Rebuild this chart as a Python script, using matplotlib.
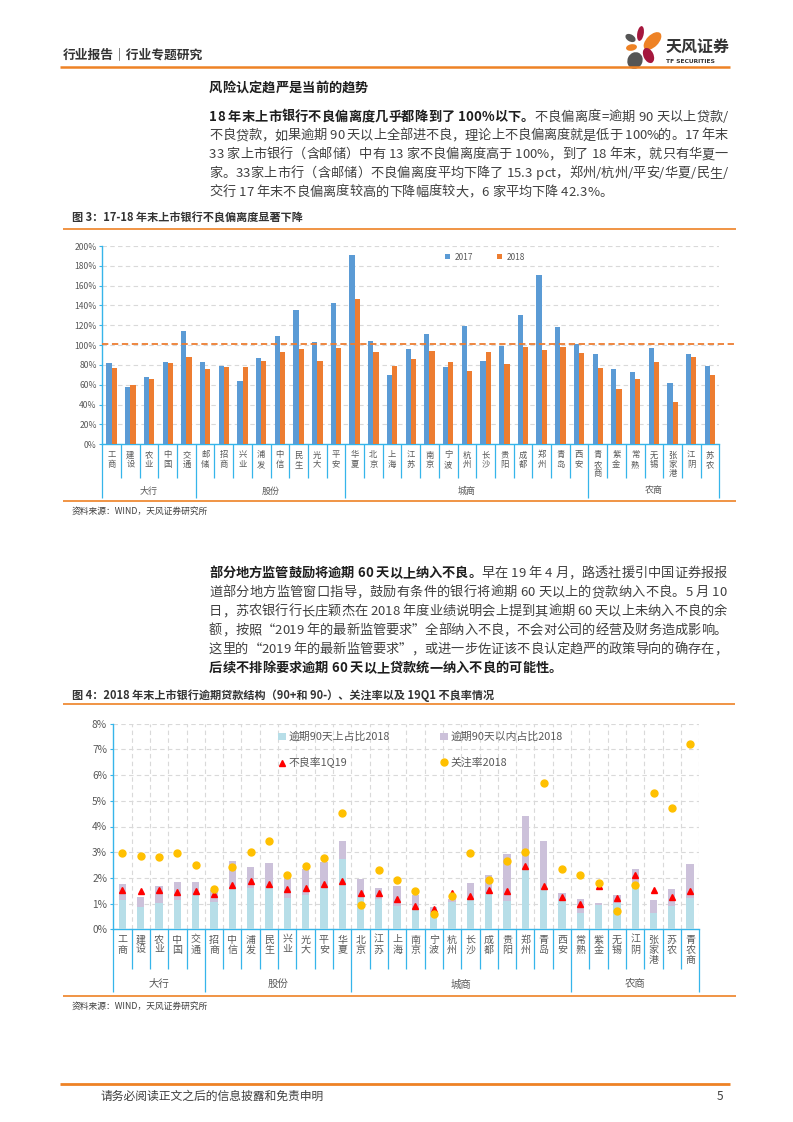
import matplotlib
matplotlib.use('Agg')
import matplotlib.pyplot as plt
import matplotlib.transforms as mtransforms
from matplotlib.patches import Ellipse
from matplotlib.font_manager import FontProperties
import numpy as np

FAM = ['Noto Sans CJK SC', 'DejaVu Sans']
plt.rcParams['font.family'] = FAM
plt.rcParams['axes.unicode_minus'] = False

# ---------------- data ----------------
cats1 = ['工商', '建设', '农业', '中国', '交通', '邮储', '招商', '兴业', '浦发', '中信', '民生', '光大', '平安',
         '华夏', '北京', '上海', '江苏', '南京', '宁波', '杭州', '长沙', '贵阳', '成都', '郑州', '青岛', '西安',
         '青农商', '紫金', '常熟', '无锡', '张家港', '江阴', '苏农']
dev2017 = [82, 58, 68, 83, 114.6, 82.7, 79.3, 64, 86.7, 109.6, 135.8, 103.5, 142.9,
           191.3, 104.5, 70.3, 96.5, 111.6, 78.3, 119.7, 84.4, 99.5, 130.8, 171.1, 118.7, 101.5,
           91.4, 76.3, 73.3, 97.5, 62.2, 91.4, 79.3]
dev2018 = [76.6, 60, 65.5, 82, 87.7, 75.6, 78.3, 78.3, 84.4, 92.8, 96.5, 84.4, 97.5,
           146.9, 92.8, 79.3, 86.4, 94.5, 82.7, 74.3, 93.4, 81.3, 98.5, 95.5, 98.5, 92.4,
           77.3, 56.1, 66.2, 82.7, 43, 88.4, 70.3]
groups1 = [('大行', 0, 5), ('股份', 5, 13), ('城商', 13, 26), ('农商', 26, 33)]
ref_value1 = 101
series1 = ['2017', '2018']

cats2 = ['工商', '建设', '农业', '中国', '交通', '招商', '中信', '浦发', '民生', '兴业', '光大', '平安', '华夏',
         '北京', '江苏', '上海', '南京', '宁波', '杭州', '长沙', '成都', '贵阳', '郑州', '青岛', '西安',
         '常熟', '紫金', '无锡', '江阴', '张家港', '苏农', '青农商']
over90 = [1.14, 0.87, 1.01, 1.14, 1.32, 1.07, 1.56, 1.61, 1.61, 1.22, 1.34, 1.61, 2.74,
          1.25, 1.19, 0.91, 0.78, 0.62, 1.08, 1.14, 1.40, 1.09, 2.33, 1.53, 1.10,
          0.65, 0.95, 1.01, 1.85, 0.65, 0.91, 1.21]
within90 = [0.62, 0.38, 0.68, 0.70, 0.52, 0.46, 1.10, 0.82, 0.96, 0.80, 0.99, 1.00, 0.70,
            0.70, 0.41, 0.78, 0.56, 0.24, 0.10, 0.66, 0.71, 1.84, 2.08, 1.89, 0.31,
            0.53, 0.09, 0.33, 0.48, 0.49, 0.66, 1.33]
npl1q19 = [1.53, 1.48, 1.53, 1.45, 1.49, 1.36, 1.73, 1.88, 1.76, 1.56, 1.60, 1.75, 1.87,
           1.40, 1.40, 1.19, 0.91, 0.78, 1.43, 1.30, 1.53, 1.49, 2.46, 1.69, 1.26,
           0.99, 1.67, 1.22, 2.11, 1.53, 1.25, 1.49]
attention = [2.96, 2.85, 2.80, 2.96, 2.49, 1.56, 2.41, 3.00, 3.42, 2.10, 2.45, 2.76, 4.51,
             0.93, 2.30, 1.91, 1.48, 0.60, 1.30, 2.96, 1.91, 2.65, 3.00, 5.68, 2.33,
             2.10, 1.79, 0.71, 1.71, 5.29, 4.71, 7.22]
groups2 = [('大行', 0, 5), ('股份', 5, 13), ('城商', 13, 25), ('农商', 25, 32)]
series2 = ['逾期90天上占比2018', '不良率1Q19', '逾期90天以内占比2018', '关注率2018']

# ---------------- figure ----------------
W, H = 793, 1122
fig = plt.figure(figsize=(W / 100, H / 100), dpi=100)
fig.patch.set_facecolor('white')
bg = fig.add_axes([0, 0, 1, 1])
bg.set_xlim(0, W)
bg.set_ylim(H, 0)
bg.axis('off')

ORANGE = '#EE8225'
CYAN = '#36B5EA'
GREY = '#595959'
TXT = '#404040'

renderer = fig.canvas.get_renderer()


def tw(s, fp):
    w, h, d = renderer.get_text_width_height_descent(s, fp, ismath=False)
    return w


def adv(ch, fp):
    return tw('|' + ch + '|', fp) - tw('||', fp)


def draw_line(runs, x0, x1, yc, justify, size=9.5):
    items = []
    for txt, bold in runs:
        fp = FontProperties(family=FAM, size=size, weight='bold' if bold else 'normal')
        col = '#1E1E1E' if bold else TXT
        for ch in txt:
            items.append((ch, fp, col, adv(ch, fp)))
    total = sum(i[3] for i in items)
    gap = (x1 - x0 - total) / (len(items) - 1) if (justify and len(items) > 1) else 0
    x = x0
    yb = yc + size * 100 / 72 * 0.38
    for ch, fp, col, a in items:
        if ch != ' ':
            bg.text(x, yb, ch, fontproperties=fp, color=col, ha='left', va='baseline')
        x += a + gap


def hline(y, x0, x1, lw=1.2, color=ORANGE):
    bg.plot([x0, x1], [y, y], color=color, lw=lw, solid_capstyle='butt')


# header
bg.text(63, 55, '行业报告｜行业专题研究', fontsize=9.2, fontweight='bold', color='#333333', va='center', ha='left')
hline(66.7, 60, 730, lw=1.8)

# logo
petals = [((640.5, 33.5), 6.5, 15, 10, '#A5173D'),
          ((652.5, 41.0), 12, 22, 45, ORANGE),
          ((630.5, 38.0), 11, 7, 30, '#555555'),
          ((631.5, 47.5), 11, 6.5, -10, ORANGE),
          ((648.5, 55.5), 10, 16, -25, '#A5173D'),
          ((635.0, 60.5), 15, 17, 25, '#555555')]
for c, w, h, a, col in petals:
    bg.add_patch(Ellipse(c, w, h, angle=a, color=col, lw=0))
bg.text(666, 46.5, '天风证券', fontsize=11.5, fontweight='bold', color='#333333', va='center', ha='left')
bg.text(666.5, 61.5, 'TF SECURITIES', fontsize=4.3, fontweight='bold', color='#333333', va='center', ha='left',
        family=['DejaVu Sans'])

# heading + para 1
draw_line([('风险认定趋严是当前的趋势', True)], 209, 728, 86.7, False)
p1 = [
    [('18 年末上市银行不良偏离度几乎都降到了 100%以下。', True), ('不良偏离度=逾期 90 天以上贷款/', False)],
    [('不良贷款，如果逾期 90 天以上全部进不良，理论上不良偏离度就是低于 100%的。17 年末', False)],
    [('33 家上市银行（含邮储）中有 13 家不良偏离度高于 100%，到了 18 年末，就只有华夏一', False)],
    [('家。33家上市行（含邮储）不良偏离度平均下降了 15.3 pct，郑州/杭州/平安/华夏/民生/', False)],
    [('交行 17 年末不良偏离度较高的下降幅度较大，6 家平均下降 42.3%。', False)],
]
for i, runs in enumerate(p1):
    draw_line(runs, 209, 728, 115.5 + 18.8 * i, i < len(p1) - 1)

# figure 3 title
bg.text(72, 218.3, '图 3：17-18 年末上市银行不良偏离度显著下降', fontsize=8, fontweight='bold', color='#333333',
        va='center', ha='left')
hline(229, 63, 736, lw=1.2)
hline(500.7, 63, 736, lw=1.2)
bg.text(72, 511, '资料来源：WIND，天风证券研究所', fontsize=6.3, color=TXT, va='center', ha='left')

# para 2
p2 = [
    [('部分地方监管鼓励将逾期 60 天以上纳入不良。', True), ('早在 19 年 4 月，路透社援引中国证券报报', False)],
    [('道部分地方监管窗口指导，鼓励有条件的银行将逾期 60 天以上的贷款纳入不良。5 月 10', False)],
    [('日，苏农银行行长庄颖杰在 2018 年度业绩说明会上提到其逾期 60 天以上未纳入不良的余', False)],
    [('额，按照“2019 年的最新监管要求”全部纳入不良，不会对公司的经营及财务造成影响。', False)],
    [('这里的“2019 年的最新监管要求”，或进一步佐证该不良认定趋严的政策导向的确存在，', False)],
    [('后续不排除要求逾期 60 天以上贷款统一纳入不良的可能性。', True)],
]
for i, runs in enumerate(p2):
    draw_line(runs, 209, 727, 572 + 19 * i, i < len(p2) - 1)

bg.text(72, 695, '图 4：2018 年末上市银行逾期贷款结构（90+和 90-）、关注率以及 19Q1 不良率情况', fontsize=8,
        fontweight='bold', color='#333333', va='center', ha='left')
hline(704, 63, 735, lw=1.2)
hline(996, 63, 736, lw=1.2)
bg.text(72, 1006, '资料来源：WIND，天风证券研究所', fontsize=6.3, color=TXT, va='center', ha='left')

# footer
hline(1084.3, 60, 730, lw=2.0)
bg.text(100.5, 1096.7, '请务必阅读正文之后的信息披露和免责申明', fontsize=8.5, color=TXT, va='center', ha='left')
bg.text(723, 1096.7, '5', fontsize=8.5, color=TXT, va='center', ha='right')


def px_axes(x0, x1, ytop, ybot):
    return fig.add_axes([x0 / W, 1 - ybot / H, (x1 - x0) / W, (ybot - ytop) / H])


def category_axis(ax, cats, groups, ybot_px, ytop_px, sep_px, grp_px, lab_top_px, grp_lab_px,
                  lab_size, grp_size, lsp):
    hpx = ybot_px - ytop_px
    tr = mtransforms.blended_transform_factory(ax.transData, ax.transAxes)
    n = len(cats)
    gb = set()
    for g, a, b in groups:
        gb.add(a)
        gb.add(b)
    for k in range(n + 1):
        depth = grp_px if k in gb else sep_px
        ax.plot([k, k], [0, -(depth - ybot_px) / hpx], transform=tr, color=CYAN, lw=0.9, clip_on=False,
                solid_capstyle='butt')
    for i, c in enumerate(cats):
        ax.text(i + 0.5, -(lab_top_px - ybot_px) / hpx, '\n'.join(c), transform=tr, ha='center', va='top',
                fontsize=lab_size, color=GREY, linespacing=lsp)
    for g, a, b in groups:
        ax.text((a + b) / 2, -(grp_lab_px - ybot_px) / hpx, g, transform=tr, ha='center', va='center',
                fontsize=grp_size, color=GREY)


# ---------------- chart 1 ----------------
ax1 = px_axes(102.3, 719.3, 246, 444.3)
ax1.set_facecolor('none')
x1 = np.arange(len(cats1)) + 0.5
bw = 0.28
b17 = ax1.bar(x1 - bw / 2, dev2017, width=bw, color='#5B9BD5', zorder=3)
b18 = ax1.bar(x1 + bw / 2, dev2018, width=bw, color='#ED7D31', zorder=3)
ax1.plot([0, len(cats1) + 0.93], [ref_value1, ref_value1], color='#ED7D31', lw=1.3, ls=(0, (3.5, 2)),
         clip_on=False, zorder=4)
ax1.set_xlim(0, len(cats1))
ax1.set_ylim(0, 200)
ax1.set_yticks(np.arange(0, 201, 20))
ax1.set_yticklabels([f'{v}%' for v in range(0, 201, 20)])
ax1.tick_params(axis='y', labelsize=6.2, labelcolor=GREY, color=CYAN, length=2.5, width=0.8, pad=1.5)
ax1.set_xticks([])
ax1.yaxis.grid(True, ls=(0, (4, 3)), color='#D9D9D9', lw=0.8)
ax1.set_axisbelow(True)
for s in ['top', 'right']:
    ax1.spines[s].set_visible(False)
for s in ['left', 'bottom']:
    ax1.spines[s].set_color(CYAN)
    ax1.spines[s].set_linewidth(1.0)
category_axis(ax1, cats1, groups1, 444.3, 246, 478.3, 498, 450.5, 491, 6, 6.5, 1.05)
ax1.legend([b17, b18], series1, loc='center left', bbox_to_anchor=(445 / W, 1 - 257.3 / H),
           bbox_transform=fig.transFigure, ncol=2, frameon=False, fontsize=6, handlelength=0.55,
           handleheight=0.55, handletextpad=0.6, columnspacing=2.9, borderpad=0, borderaxespad=0,
           labelcolor=GREY)

# ---------------- chart 2 ----------------
ax2 = px_axes(113.3, 699.3, 723.7, 929.3)
ax2.set_facecolor('none')
x2 = np.arange(len(cats2)) + 0.5
bo = ax2.bar(x2, over90, width=0.4, color='#B7DEE8', zorder=3)
bi = ax2.bar(x2, within90, bottom=over90, width=0.4, color='#CCC1DA', zorder=3)
tri, = ax2.plot(x2, npl1q19, ls='none', marker='^', color='#FF0000', ms=5, zorder=4)
dot, = ax2.plot(x2, attention, ls='none', marker='o', color='#FFC000', ms=5, zorder=5)
ax2.set_xlim(0, len(cats2))
ax2.set_ylim(0, 8)
ax2.set_yticks(np.arange(0, 9))
ax2.set_yticklabels([f'{v}%' for v in range(0, 9)])
ax2.set_xticks(np.arange(1, len(cats2) + 1))
ax2.set_xticklabels([])
ax2.tick_params(axis='x', length=0)
ax2.tick_params(axis='y', labelsize=7.3, labelcolor=GREY, color=CYAN, length=2.5, width=0.8, pad=2)
ax2.grid(True, ls=(0, (4, 3)), color='#D9D9D9', lw=0.8)
ax2.set_axisbelow(True)
for s in ['top', 'right']:
    ax2.spines[s].set_visible(False)
for s in ['left', 'bottom']:
    ax2.spines[s].set_color(CYAN)
    ax2.spines[s].set_linewidth(1.0)
category_axis(ax2, cats2, groups2, 929.3, 723.7, 969.3, 991.7, 934.5, 984.3, 7.2, 7.5, 1.0)
ax2.legend([bo, tri, bi, dot], series2, loc='upper left', bbox_to_anchor=(278 / W, 1 - 732 / H),
           bbox_transform=fig.transFigure, ncol=2, frameon=False, fontsize=7.8, handlelength=0.7,
           handleheight=0.7, handletextpad=0.3, columnspacing=4.6, labelspacing=1.4, borderpad=0,
           borderaxespad=0, labelcolor=GREY, numpoints=1)

fig.savefig('out.png', dpi=100, facecolor='white')
